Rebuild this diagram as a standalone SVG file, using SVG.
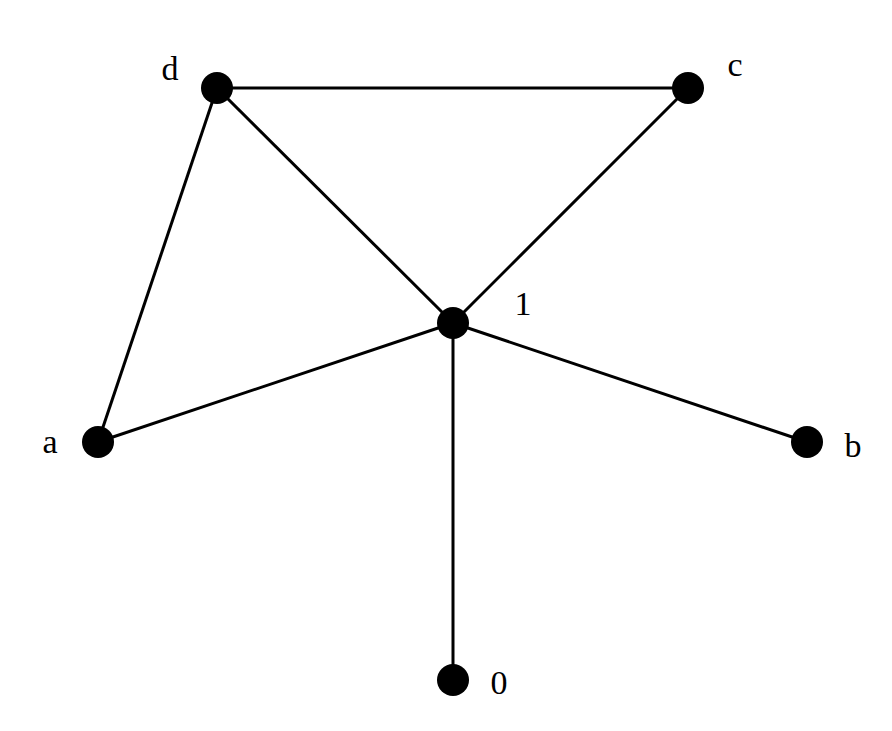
<svg xmlns="http://www.w3.org/2000/svg" width="892" height="731" viewBox="0 0 892 731">
<style>
.e{stroke:#000;stroke-width:3;fill:none}
.n{fill:#000}
.t{font-family:"Liberation Serif",serif;font-size:34px;fill:#000;text-anchor:middle}
</style>
<rect width="892" height="731" fill="#fff"/>
<g id="edges">
<line class="e" x1="217" y1="88" x2="688" y2="88"/>
<line class="e" x1="217" y1="88" x2="453" y2="323"/>
<line class="e" x1="688" y1="88" x2="453" y2="323"/>
<line class="e" x1="217" y1="88" x2="98" y2="442"/>
<line class="e" x1="98" y1="442" x2="453" y2="323"/>
<line class="e" x1="453" y1="323" x2="807" y2="442"/>
<line class="e" x1="453" y1="323" x2="453" y2="680"/>
</g>
<g id="d"><circle class="n" cx="217" cy="88" r="16"/><text class="t" x="170" y="80">d</text></g>
<g id="c"><circle class="n" cx="688" cy="88" r="16"/><text class="t" x="735" y="76">c</text></g>
<g id="n1"><circle class="n" cx="453" cy="323" r="16"/><text class="t" x="523" y="315">1</text></g>
<g id="a"><circle class="n" cx="98" cy="442" r="16"/><text class="t" x="50" y="453">a</text></g>
<g id="b"><circle class="n" cx="807" cy="442" r="16"/><text class="t" x="853" y="457">b</text></g>
<g id="n0"><circle class="n" cx="453" cy="680" r="16"/><text class="t" x="499" y="694">0</text></g>
</svg>
